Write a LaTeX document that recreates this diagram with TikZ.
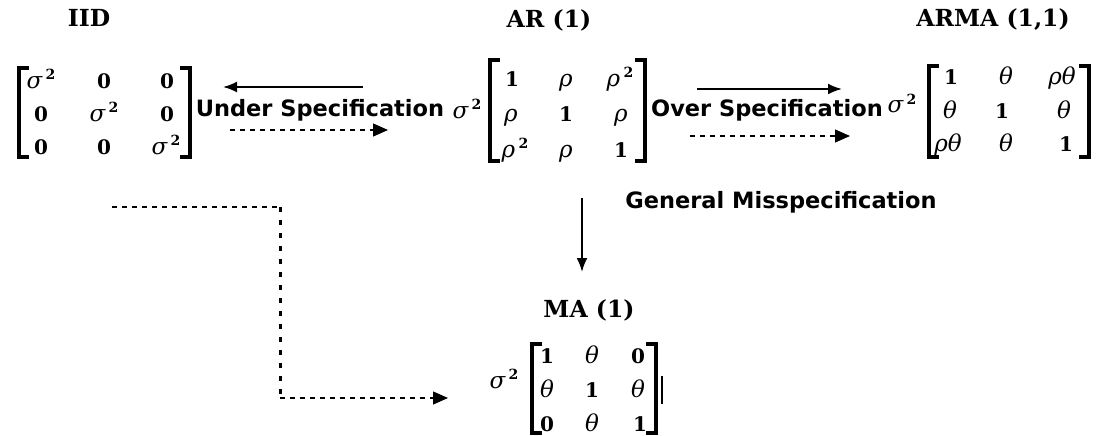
\documentclass[tikz,border=0pt]{standalone}
\usepackage{fontspec}
\usetikzlibrary{arrows.meta}
\newfontfamily\lblfont{DejaVu Sans}
\newfontfamily\ttlfont{DejaVu Serif}
\newfontfamily\cellfont{DejaVu Serif}
\newcommand\gk[1]{{\fontsize{23}{23}\selectfont\itshape #1}}
\newcommand\mysq{\,\raisebox{0.45em}{\fontsize{14}{14}\selectfont\bfseries 2}}
\newcommand\sqs{\gk{σ}\mysq}
\newcommand\rsq{\gk{ρ}\mysq}
\newcommand\ro{\gk{ρ}}
\newcommand\te{\gk{θ}}
\newcommand\rt{\gk{ρθ}}
\newcommand\one{\textbf{1}}
\newcommand\zer{\textbf{0}}
\begin{document}
\begin{tikzpicture}[x=1pt,y=-1pt,
  mc/.style={inner sep=0pt, text height=13pt, text depth=0pt, anchor=center, font=\cellfont\fontsize{20}{24}\selectfont},
  pre/.style={inner sep=0pt, anchor=base, font=\cellfont\fontsize{20}{24}\selectfont},
  lbl/.style={inner sep=0pt, anchor=base, font=\lblfont\bfseries\fontsize{22.5}{26}\selectfont},
  ttl/.style={inner sep=0pt, anchor=base, font=\ttlfont\bfseries\fontsize{23.5}{27}\selectfont},
  brk/.style={line width=4pt, line cap=butt, line join=miter},
  solidarrow/.style={line width=2pt, -{Latex[length=14pt,width=11pt]}},
  dasharrow/.style={line width=1.2pt, dash pattern=on 5pt off 5pt, -{Triangle[length=15pt,width=13pt]}},
  thinDash/.style={line width=1.2pt, dash pattern=on 5pt off 5pt},
  dotDash/.style={line width=3pt, dash pattern=on 5pt off 8pt}
]
\useasboundingbox (0,0) rectangle (1101,436);

% ---------------- titles ----------------
\node[ttl] (tIID) at (89,27) {IID};
\node[ttl] (tAR) at (549,28) {AR (1)};
\node[ttl] (tARMA) at (993,27) {ARMA (1,1)};
\node[ttl] (tMA) at (589,317) {MA (1)};

% ---------------- IID matrix ----------------
\node[mc] (i11) at (41,82) {\sqs};
\node[mc] (i12) at (104,82) {\zer};
\node[mc] (i13) at (167,82) {\zer};
\node[mc] (i21) at (41,115) {\zer};
\node[mc] (i22) at (104,115) {\sqs};
\node[mc] (i23) at (167,115) {\zer};
\node[mc] (i31) at (41,148) {\zer};
\node[mc] (i32) at (104,148) {\zer};
\node[mc] (i33) at (166,148) {\sqs};
\draw[brk] (29,68) -- (19,68) -- (19,157) -- (29,157);
\draw[brk] (180,68) -- (190,68) -- (190,157) -- (180,157);

% ---------------- AR matrix ----------------
\node[pre] (arpre) at (467,118) {\sqs};
\node[mc] (a11) at (512,80) {\one};
\node[mc] (a12) at (566,80) {\ro};
\node[mc] (a13) at (620,80) {\rsq};
\node[mc] (a21) at (511,115) {\ro};
\node[mc] (a22) at (566,115) {\one};
\node[mc] (a23) at (621,115) {\ro};
\node[mc] (a31) at (515,151) {\rsq};
\node[mc] (a32) at (566,151) {\ro};
\node[mc] (a33) at (621,151) {\one};
\draw[brk] (500,60) -- (490,60) -- (490,161) -- (500,161);
\draw[brk] (635,60) -- (645,60) -- (645,161) -- (635,161);

% ---------------- ARMA matrix ----------------
\node[pre] (armapre) at (902,113) {\sqs};
\node[mc] (m11) at (951,78) {\one};
\node[mc] (m12) at (1006,78) {\te};
\node[mc] (m13) at (1062,78) {\rt};
\node[mc] (m21) at (950,112) {\te};
\node[mc] (m22) at (1002,112) {\one};
\node[mc] (m23) at (1064,112) {\te};
\node[mc] (m31) at (948,145) {\rt};
\node[mc] (m32) at (1006,145) {\te};
\node[mc] (m33) at (1066,145) {\one};
\draw[brk] (939,66) -- (929,66) -- (929,157) -- (939,157);
\draw[brk] (1079,66) -- (1089,66) -- (1089,157) -- (1079,157);

% ---------------- MA matrix ----------------
\node[pre] (mapre) at (504,388) {\sqs};
\node[mc] (q11) at (547,357) {\one};
\node[mc] (q12) at (592,357) {\te};
\node[mc] (q13) at (638,357) {\zer};
\node[mc] (q21) at (547,391) {\te};
\node[mc] (q22) at (592,391) {\one};
\node[mc] (q23) at (638,391) {\te};
\node[mc] (q31) at (547,425) {\zer};
\node[mc] (q32) at (592,425) {\te};
\node[mc] (q33) at (640,425) {\one};
\draw[brk] (542,344) -- (532,344) -- (532,433) -- (542,433);
\draw[brk] (646,344) -- (656,344) -- (656,433) -- (646,433);
\draw[line width=2pt] (662,376) -- (662,404);

% ---------------- labels ----------------
\node[lbl] (under) at (320,117) {Under Specification};
\node[lbl] (over) at (767,117) {Over Specification};
\node[lbl] (gen) at (781,208) {General Misspecification};

% ---------------- connector ends ----------------
\coordinate (us) at (363,87);
\coordinate (ue) at (223,87);
\coordinate (uds) at (230,130);
\coordinate (ude) at (388,130);
\coordinate (os) at (697,89);
\coordinate (oe) at (842,89);
\coordinate (ods) at (690,136);
\coordinate (ode) at (850,136);
\coordinate (vs) at (582,198);
\coordinate (ve) at (582,272);
\coordinate (e1) at (112,207);
\coordinate (e2) at (280,207);
\coordinate (e3) at (280,398);
\coordinate (e4) at (448,398);

\draw[solidarrow] (us) -- (ue);
\draw[dasharrow] (uds) -- (ude);
\draw[solidarrow] (os) -- (oe);
\draw[dasharrow] (ods) -- (ode);
\draw[solidarrow] (vs) -- (ve);
\draw[thinDash] (e1) -- (e2);
\draw[dotDash] (e2) -- (e3);
\draw[dasharrow] (e3) -- (e4);
\end{tikzpicture}
\end{document}
